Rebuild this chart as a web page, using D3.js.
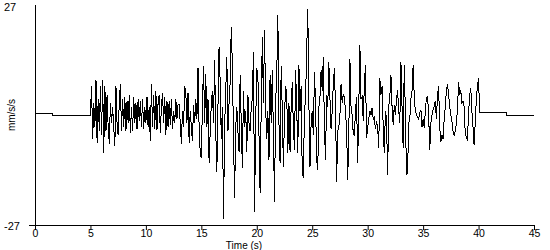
<!DOCTYPE html>
<html>
<head>
<meta charset="utf-8">
<script src="https://cdn.jsdelivr.net/npm/d3@7"></script>
<style>
  html, body { margin: 0; padding: 0; background: #fff; }
  svg { display: block; }
  text { font-family: Arial, "Liberation Sans", sans-serif; font-size: 11px; fill: #000; }
</style>
</head>
<body>
<div id="chart"></div>
<script>
// quiet parts before and after the strong motion (time s, mm/s/s)
const preTimes = [0, 1.6, 1.6, 5.0];
const preAccel = [0.25, 0.25, 0, 0];
const postTimes = [40.1, 42.5, 42.5, 45];
const postAccel = [0.5, 0.5, 0, 0];

// strong motion, sampled every 0.1 s from 5.0 s
const sampleStart = 5.0;
const sampleStep = 0.1;
const accel = [
  0.5, 7, -6, 3, -3, 8.5, -6.8, 4, -4, 7,
  -5, 8.6, -9.4, 7, -4, 5, -3, -7, 3, -2,
  2, -3, -7.6, 7.2, -2, -5, 3, 7.7, -4, 4,
  -3, 4.5, -4, 3.5, -2, 5, -4.5, 2, -4, 4.5,
  -2, 3, -3.5, 4, -1.5, 3.5, -3, 4, -3.5, 2,
  -2, 4.5, -3, 2, -6.5, 7.7, -3, 5, -3.5, 6,
  -3.7, 3, 5, -4.4, 2, 5.5, -2, 4.5, -5, 3.5,
  -3, 3.5, -2.5, 4, -3.5, 1, -2, 4, -1, 2.5,
  2.5, -2, -7, 1, -3, 7, 5.5, -2, 5.5, -6.8,
  1, -3, -6.5, 2.5, -2, 4, -1, 11.5, -3, -9.4,
  -10.6, 3, 12, -2, 10, -3, 4, -11.8, -4, 3,
  6, -2, 13.5, -4, -13.9, 2, 16.8, 8, -6, 2,
  -25.5, -3, 6, 14.3, -4, 3, 8, 21.7, 12, -5,
  -20.4, -3, 2, -4, -9, 9.8, -2, -13, 6, -3,
  1, -9, 5, -2, -4, 2, 4, 15.5, -23.8, -2,
  11.5, 9.8, -5, -19.2, 2, 19.2, 3, 20.9, 2, -6,
  1, -11, 9.8, -2, 11, -5, -21.3, 3, 10, 24.6,
  -2, -11.8, 12, 1, -12.7, 0, 7, 5.5, -9.4, 3,
  -9, 2, 8, -3, -8.5, 11, 2, -9.4, 12.3, 1,
  7, -14.7, -15.2, 1, 4, 16, 26, 3, -12.7, -2,
  1, -5, 10.6, 3, -11, -13.5, 2, 4.5, 11, 6,
  14.3, -3, -11, 5, 2, 12.9, 4, -3.5, 1, 7.5,
  11.5, 2, -16.4, -4, -3, 0, 7.5, 3, 5, 4.5,
  1, -3.5, -16, -4, 13.7, 2, 0, -4.5, -4.9, 1,
  4.5, -11.8, 2, 17.2, 4, 4.5, -1.5, 7, 12.3, -5.7,
  -3, -1, 1, 0, 1.8, -1, -0.5, -3.5, -1.5, -3,
  -8, 9, 5, 7, -3, -9.4, 1, -1, -14.7, 2,
  4.5, 9.8, 2, -2.5, 2.5, 0, 4, 6, 1, -2,
  13.1, 2, -8, 12.3, 1, -14.7, -14, -2, -1, 4,
  6, 12.3, 4.5, 1, 0, -0.5, -1, 0.5, 1.3, -3,
  -1, -3.2, 1, 4.3, 4.5, 0, -8.6, -2, 0, 1.3,
  2, 3.5, -1, 5, 7, -3.2, -6.5, -5, -6, -1,
  2, 6, 7.7, 5, 2, 0, -1.5, -4, -5, -4,
  -2, 1.5, 8, 5, 6, 3, 3.5, 2, -4.5, -5.5,
  -6, 0.5, 5, 6.6, 1, -3, -7.4, -2, 4, 7.2,
  9, 0.5
];

const xTicks = [0, 5, 10, 15, 20, 25, 30, 35, 40, 45];
const yLimit = 27;

const width = 550;
const height = 250;
const margin = { top: 5, right: 16, bottom: 25, left: 35 };

const pts = [];
preTimes.forEach((t, i) => pts.push([t, preAccel[i]]));
accel.forEach((v, i) => pts.push([sampleStart + i * sampleStep, v]));
postTimes.forEach((t, i) => pts.push([t, postAccel[i]]));

const svg = d3.select("#chart").append("svg")
  .attr("width", width)
  .attr("height", height);

const x = d3.scaleLinear().domain([0, 45]).range([margin.left, width - margin.right]);
const y = d3.scaleLinear().domain([-yLimit, yLimit]).range([height - margin.bottom, margin.top]);

// trace
svg.append("path")
  .datum(pts)
  .attr("fill", "none")
  .attr("stroke", "#000")
  .attr("stroke-width", 1)
  .attr("shape-rendering", "crispEdges")
  .attr("d", d3.line().x(d => x(d[0])).y(d => y(d[1])));

// x axis
const xAxis = svg.append("g")
  .attr("transform", `translate(0,${y(-yLimit)})`)
  .call(d3.axisBottom(x).tickValues(xTicks).tickSize(5).tickPadding(0).tickSizeOuter(0));
xAxis.select(".domain").attr("d", `M${margin.left - 6},0.5H${x(45)}`);
xAxis.selectAll("line").attr("stroke", "#000");
xAxis.selectAll("text").style("font-size", "10.5px").style("font-family", "Arial, 'Liberation Sans', sans-serif");

// y axis: plain line, end labels at the left edge
svg.append("line")
  .attr("x1", x(0) + 0.5).attr("x2", x(0) + 0.5)
  .attr("y1", y(yLimit)).attr("y2", y(-yLimit))
  .attr("stroke", "#000");

svg.append("text").attr("x", 4).attr("y", y(yLimit) + 6).text(yLimit);
svg.append("text").attr("x", 4).attr("y", y(-yLimit) + 5).text(-yLimit);

svg.append("text")
  .attr("transform", `translate(15,${y(0)}) rotate(-90)`)
  .attr("text-anchor", "middle")
  .style("font-size", "10px")
  .text("mm/s/s");

svg.append("text")
  .attr("x", 244)
  .attr("y", 248.5)
  .attr("text-anchor", "middle")
  .style("font-size", "10px")
  .text("Time (s)");
</script>
</body>
</html>
